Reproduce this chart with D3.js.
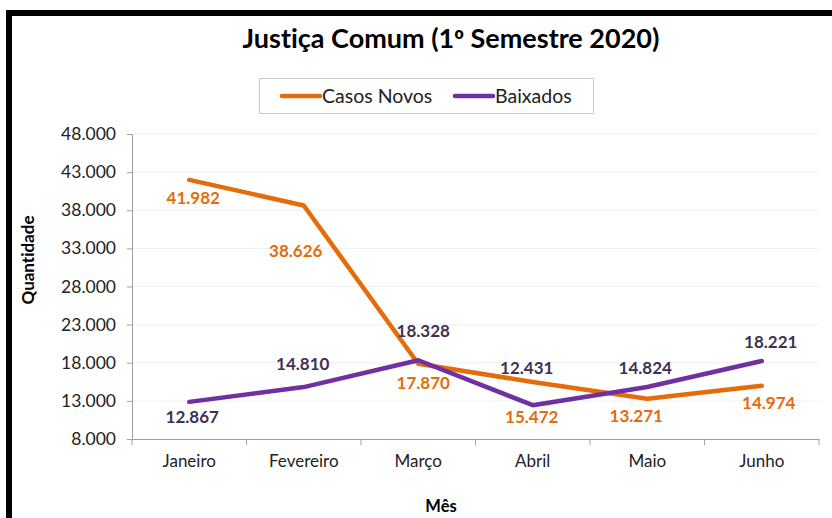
<!DOCTYPE html>
<html><head><meta charset="utf-8">
<script src="https://cdn.jsdelivr.net/npm/d3@7"></script>
<style>
html,body{margin:0;padding:0;background:#fff;}
svg{display:block;font-family:Lato,"Open Sans",sans-serif;font-variant-ligatures:none;font-feature-settings:"liga" 0,"clig" 0;}
</style></head>
<body>
<svg id="chart" width="832" height="518"></svg>
<script>
const months = ["Janeiro","Fevereiro","Março","Abril","Maio","Junho"];
const casosNovos = [41982, 38626, 17870, 15472, 13271, 14974];
const baixados = [12867, 14810, 18328, 12431, 14824, 18221];
const yTicks = [8000, 13000, 18000, 23000, 28000, 33000, 38000, 43000, 48000];
const seriesNames = ["Casos Novos", "Baixados"];
const titleParts = ["Justiça Comum (1", "º", " Semestre 2020)"];
const yTitle = "Quantidade";
const xTitle = "Mês";

// label offsets (layout only)
const orangeOff = [[4,18],[-8,46],[5,19],[-1,35],[-11,17],[7,17]];
const purpleOff = [[3,15],[-1,-23],[5,-29],[-6,-37],[-2,-19],[9,-19]];

const ORANGE = "#E46C0A", PURPLE = "#7030A0", PLABEL = "#403152";
const svg = d3.select("#chart");
const fmt = v => d3.format(",")(v).replace(/,/g, ".");

// frame
svg.append("rect").attr("x",6).attr("y",10).attr("width",6).attr("height",508).attr("fill","#000");
svg.append("rect").attr("x",6).attr("y",10).attr("width",826).attr("height",6).attr("fill","#000");

const L = 132, R = 819, T = 134, B = 439;
const x = d3.scaleBand().domain(months).range([L, R]);
const y = d3.scaleLinear().domain([8000, 48000]).range([B, T]);

// gridlines
svg.append("g").selectAll("line").data(yTicks.slice(1)).join("line")
  .attr("x1", L).attr("x2", R).attr("y1", d => y(d)).attr("y2", d => y(d))
  .attr("stroke", "#efefef").attr("stroke-width", 1);

// y axis
const yAxis = svg.append("g").attr("transform", `translate(${L},0)`)
  .call(d3.axisLeft(y).tickValues(yTicks).tickFormat(fmt).tickSize(5).tickPadding(11));
yAxis.select(".domain").attr("stroke", "#a0a0a0");
yAxis.selectAll(".tick line").attr("stroke", "#a0a0a0");
yAxis.selectAll("text").attr("font-size", 17.5).attr("fill", "#222").attr("font-family", "Lato");

// x axis
const xAxis = svg.append("g").attr("transform", `translate(0,${B})`)
  .call(d3.axisBottom(x).tickSize(0).tickPadding(16));
xAxis.select(".domain").attr("stroke", "#a0a0a0");
xAxis.selectAll("text").attr("font-size", 17).attr("fill", "#222").attr("font-family", "Lato");
xAxis.append("g").selectAll("line").data(months.map(m => x(m)).concat([R])).join("line")
  .attr("x1", d => d).attr("x2", d => d).attr("y1", 0).attr("y2", 6).attr("stroke", "#a0a0a0");

const cx = m => x(m) + x.bandwidth() / 2;
const line = d3.line().x((d, i) => cx(months[i])).y(d => y(d));

svg.append("path").datum(casosNovos).attr("d", line).attr("fill", "none")
  .attr("stroke", ORANGE).attr("stroke-width", 4.5).attr("stroke-linejoin", "round").attr("stroke-linecap", "round");
svg.append("path").datum(baixados).attr("d", line).attr("fill", "none")
  .attr("stroke", PURPLE).attr("stroke-width", 4.5).attr("stroke-linejoin", "round").attr("stroke-linecap", "round");

// labels
svg.append("g").selectAll("text").data(casosNovos).join("text")
  .attr("x", (d, i) => cx(months[i]) + orangeOff[i][0])
  .attr("y", (d, i) => y(d) + orangeOff[i][1])
  .attr("dy", "0.35em").attr("text-anchor", "middle")
  .attr("font-size", 17).attr("font-weight", "bold").attr("fill", ORANGE)
  .text(fmt);
svg.append("g").selectAll("text").data(baixados).join("text")
  .attr("x", (d, i) => cx(months[i]) + purpleOff[i][0])
  .attr("y", (d, i) => y(d) + purpleOff[i][1])
  .attr("dy", "0.35em").attr("text-anchor", "middle")
  .attr("font-size", 17).attr("font-weight", "bold").attr("fill", PLABEL)
  .text(fmt);

// title
const tt = svg.append("text").attr("x", 451).attr("y", 48).attr("text-anchor", "middle")
  .attr("font-size", 27).attr("font-weight", "bold").attr("fill", "#000");
tt.selectAll("tspan").data(titleParts).join("tspan")
  .attr("font-family", (d, i) => i === 1 ? "Open Sans" : null)
  .attr("font-size", (d, i) => i === 1 ? 25 : null)
  .text(d => d);

// legend
const lg = svg.append("g");
lg.append("rect").attr("x", 259.5).attr("y", 78.5).attr("width", 334).attr("height", 35)
  .attr("fill", "#fff").attr("stroke", "#c8c8c8");
const legItems = [{x: 282, c: ORANGE, t: seriesNames[0]}, {x: 455, c: PURPLE, t: seriesNames[1]}];
legItems.forEach(it => {
  lg.append("line").attr("x1", it.x).attr("x2", it.x + 38).attr("y1", 96).attr("y2", 96)
    .attr("stroke", it.c).attr("stroke-width", 4.5).attr("stroke-linecap", "round");
  lg.append("text").attr("x", it.x + 40).attr("y", 96).attr("dy", "0.35em")
    .attr("font-size", 19.5).attr("fill", "#222").text(it.t);
});

// axis titles
svg.append("text").attr("transform", "translate(34,260) rotate(-90)").attr("text-anchor", "middle")
  .attr("font-size", 17).attr("font-weight", "bold").attr("fill", "#000").text(yTitle);
svg.append("text").attr("x", 441).attr("y", 512).attr("text-anchor", "middle")
  .attr("font-size", 16.5).attr("font-weight", "bold").attr("fill", "#000").text(xTitle);
</script>
</body></html>
